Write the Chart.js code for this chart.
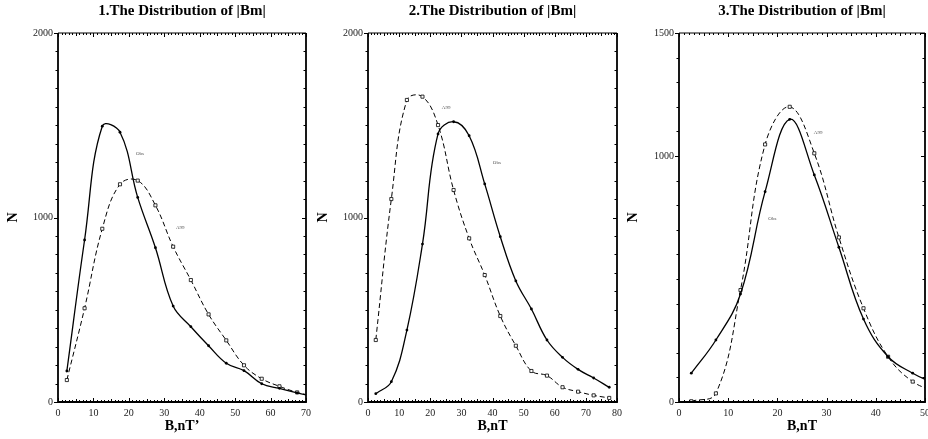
<!DOCTYPE html>
<html><head><meta charset="utf-8">
<script src="https://cdn.jsdelivr.net/npm/chart.js@4/dist/chart.umd.min.js"></script>
<style>
body{margin:0;background:#fff;overflow:hidden}
#wrap{position:relative;width:928px;height:439px;overflow:hidden}
canvas{position:absolute;top:0}
</style></head>
<body><div id="wrap">
<canvas id="c1" width="320" height="439" style="left:0"></canvas>
<canvas id="c2" width="320" height="439" style="left:310px"></canvas>
<canvas id="c3" width="320" height="439" style="left:620px"></canvas>
</div>
<script>
const el=id=>document.getElementById(id);
const SERIF='"Liberation Serif","Times New Roman",serif';

// panel 1
const X1=[2.5,7.5,12.5,17.5,22.5,27.5,32.5,37.5,42.5,47.5,52.5,57.5,62.5,67.5,72.5];
const OBS1=[168,878,1495,1462,1109,836,520,408,305,210,170,99,74,50,28];
const A99_1=[119,508,939,1180,1200,1066,842,661,475,334,199,126,85,52,30];
const YT1=[0,1000,2000], XT1=[0,10,20,30,40,50,60,70];
const NOTES1=[["Obs",22,1344],["A99",33.3,945]];
// panel 2
const X2=[2.5,7.5,12.5,17.5,22.5,27.5,32.5,37.5,42.5,47.5,52.5,57.5,62.5,67.5,72.5,77.5];
const OBS2=[45,110,390,856,1453,1519,1443,1182,896,656,504,336,242,177,130,80];
const A99_2=[336,1100,1637,1655,1501,1149,887,688,466,305,168,143,80,56,36,22];
const YT2=[0,1000,2000], XT2=[0,10,20,30,40,50,60,70,80];
const NOTES2=[["A99",23.7,1595],["Obs",40.1,1295]];
// panel 3
const X3=[2.5,7.5,12.5,17.5,22.5,27.5,32.5,37.5,42.5,47.5,52.5];
const OBS3=[117,252,439,855,1149,923,629,337,184,117,70];
const A99_3=[3,35,455,1047,1200,1011,669,381,184,83,40];
const YT3=[0,1000,1500], XT3=[0,10,20,30,40,50];
const NOTES3=[["Obs",18.15,744],["A99",27.4,1095]];

const frame={id:"frame",afterDatasetsDraw(c,a,o){
  const {ctx,chartArea:{left,right,top,bottom},scales:{x,y}}=c;
  ctx.save(); ctx.strokeStyle="#000"; ctx.lineWidth=1;
  ctx.beginPath();
  for(let v=0;v<=y.max;v+=100){ const py=Math.round(y.getPixelForValue(v))+.5, maj=o.yt.includes(v);
    ctx.moveTo(left-(maj?4:2.5),py); ctx.lineTo(left,py);
    ctx.moveTo(right,py); ctx.lineTo(right-(maj?4:2.5),py); }
  for(let v=0;v<=x.max;v+=1){ const px=Math.round(x.getPixelForValue(v))+.5, len=v%10===0?4:v%5===0?3:2;
    ctx.moveTo(px,bottom); ctx.lineTo(px,bottom-len);
    ctx.moveTo(px,top); ctx.lineTo(px,top+len); }
  ctx.stroke();
  ctx.beginPath(); ctx.moveTo(left,top); ctx.lineTo(right,top); ctx.stroke();
  ctx.lineWidth=1.8; ctx.beginPath();
  ctx.moveTo(left,top); ctx.lineTo(left,bottom); ctx.lineTo(right,bottom); ctx.lineTo(right,top); ctx.stroke();
  ctx.fillStyle="#555"; ctx.font="5px "+SERIF; ctx.textAlign="left"; ctx.textBaseline="middle";
  o.notes.forEach(([t,vx,vy])=>ctx.fillText(t,x.getPixelForValue(vx),y.getPixelForValue(vy)));
  ctx.restore();
}};

function panel(id,title,xTitle,xs,obs,a99,xMax,yMax,xt,yt,notes,yW,padR){
  const pts=v=>v.map((n,i)=>({x:xs[i],y:n}));
  new Chart(el(id),{type:"line",plugins:[frame],
    data:{datasets:[
      {label:"Obs",data:pts(obs),borderColor:"#000",borderWidth:1.3,pointRadius:1.4,pointBackgroundColor:"#000",pointBorderWidth:0,tension:.4},
      {label:"A99",data:pts(a99),borderColor:"#000",borderWidth:1,borderDash:[5,3],pointStyle:"rect",pointRadius:2.2,
        pointBackgroundColor:"#fff",pointBorderColor:"#000",pointBorderWidth:.8,tension:.4}]},
    options:{responsive:false,animation:false,layout:{padding:{left:0,right:padR,top:0,bottom:0}},
      scales:{
        x:{type:"linear",min:0,max:xMax,grid:{display:false,drawTicks:false},border:{display:false},
          afterBuildTicks:s=>{s.ticks=xt.map(v=>({value:v}));},afterFit:s=>{s.height=37;},
          ticks:{padding:5,color:"#222",font:{family:SERIF,size:10},maxRotation:0,autoSkip:false,callback:v=>String(v)},
          title:{display:true,text:xTitle,color:"#000",font:{family:SERIF,size:14,weight:"bold"},padding:{top:5,bottom:4}}},
        y:{min:0,max:yMax,grid:{display:false,drawTicks:false},border:{display:false},
          afterBuildTicks:s=>{s.ticks=yt.map(v=>({value:v}));},afterFit:s=>{s.width=yW;},
          ticks:{padding:5,color:"#222",font:{family:SERIF,size:10},autoSkip:false,callback:v=>String(v)},
          title:{display:true,text:"N",color:"#000",font:{family:SERIF,size:14,weight:"bold"},padding:{top:5,bottom:5}}}},
      plugins:{legend:{display:false},tooltip:{enabled:false},
        title:{display:true,fullSize:false,text:title,color:"#000",font:{family:SERIF,size:15,weight:"bold"},padding:{top:2,bottom:13}},
        frame:{yt,notes}}}});
}

panel("c1","1.The Distribution of |Bm|","B,nT’",X1,OBS1,A99_1,70,2000,XT1,YT1,NOTES1,58,14);
panel("c2","2.The Distribution of |Bm|","B,nT",X2,OBS2,A99_2,80,2000,XT2,YT2,NOTES2,58,13);
panel("c3","3.The Distribution of |Bm|","B,nT",X3,OBS3,A99_3,50,1500,XT3,YT3,NOTES3,59,15);
</script>
</body></html>
